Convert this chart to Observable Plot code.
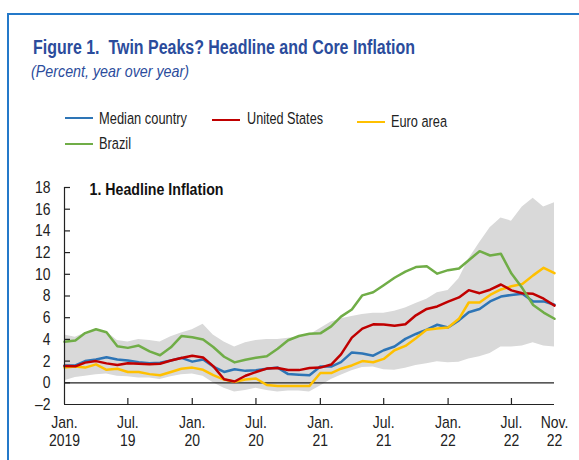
<!DOCTYPE html>
<html><head><meta charset="utf-8">
<script src="https://cdn.jsdelivr.net/npm/d3@7"></script>
<script src="https://cdn.jsdelivr.net/npm/@observablehq/plot@0.6"></script>
<style>
body{margin:0;width:579px;height:460px;overflow:hidden;background:#fff;position:relative;
  font-family:"Liberation Sans",Arial,sans-serif;color:#222}
#frame{position:absolute;left:7px;top:13px;width:600px;height:500px;border-left:2px solid #2479c9;border-top:2px solid #2479c9}
.fit{position:absolute;display:inline-block;white-space:pre;line-height:1;transform-origin:0 0}
#title{left:33px;top:37.5px;font-size:19.5px;font-weight:bold;color:#2b4c9c}
#subtitle{left:31px;top:63px;font-size:16.5px;font-style:italic;color:#2b4c9c}
.leg{font-size:16.3px;color:#222}
.legline{position:absolute;height:2.4px}
#chart{position:absolute;left:0;top:170px}
</style></head>
<body>
<div id="frame"></div>
<div id="title" class="fit">Figure 1.  Twin Peaks? Headline and Core Inflation</div>
<div id="subtitle" class="fit">(Percent, year over year)</div>
<div id="legend"></div>
<div id="chart"></div>
<script>
// ---- data (monthly, Jan 2019 – Nov 2022) ----
const startMonth = "2019-01";
const median = [1.6,1.6,2.0,2.15,2.35,2.15,2.05,1.9,1.8,1.85,2.05,2.3,1.95,2.15,1.5,1.0,1.25,1.1,1.15,1.3,1.4,0.8,0.75,0.7,1.5,1.5,1.9,2.8,2.7,2.5,3.0,3.35,4.05,4.5,4.9,5.35,5.1,5.75,6.5,6.8,7.5,7.95,8.1,8.2,7.5,7.5,7.2];
const unitedStates = [1.55,1.52,1.86,2.0,1.79,1.65,1.81,1.75,1.71,1.76,2.05,2.29,2.49,2.33,1.54,0.33,0.12,0.65,0.99,1.31,1.37,1.18,1.17,1.36,1.4,1.68,2.62,4.16,4.99,5.39,5.37,5.25,5.39,6.22,6.81,7.04,7.48,7.87,8.54,8.26,8.58,9.06,8.52,8.26,8.2,7.75,7.11];
const euroArea = [1.4,1.5,1.4,1.7,1.2,1.3,1.0,1.0,0.8,0.7,1.0,1.3,1.4,1.2,0.7,0.3,0.1,0.3,0.4,-0.2,-0.3,-0.3,-0.3,-0.3,0.9,0.9,1.3,1.6,2.0,1.9,2.2,3.0,3.4,4.1,4.9,5.0,5.1,5.9,7.4,7.4,8.1,8.6,8.9,9.1,9.9,10.6,10.1];
const brazil = [3.78,3.89,4.58,4.94,4.66,3.37,3.22,3.43,2.89,2.54,3.27,4.31,4.19,4.0,3.3,2.4,1.88,2.13,2.31,2.44,3.14,3.92,4.31,4.52,4.56,5.2,6.1,6.76,8.06,8.35,8.99,9.68,10.25,10.67,10.74,10.06,10.38,10.54,11.3,12.13,11.73,11.89,10.07,8.73,7.17,6.47,5.9];
const bandLow = [0.2,0.5,0.6,0.75,0.8,0.6,0.55,0.45,0.45,0.3,0.55,0.75,0.8,0.6,0.0,-0.5,-0.85,-0.7,-0.5,-0.7,-0.85,-0.75,-0.75,-0.85,-0.3,0.3,0.7,1.1,1.4,1.45,1.2,1.15,1.35,1.6,1.75,1.95,1.85,1.9,2.2,2.4,2.7,3.3,3.3,3.4,3.7,3.4,3.3];
const bandHigh = [4.4,4.2,4.6,4.9,4.7,3.9,3.75,4.0,3.9,3.75,4.25,4.6,4.9,5.4,4.4,3.75,3.3,3.7,3.9,4.0,4.0,4.1,4.2,4.4,5.0,5.6,5.9,6.1,6.3,6.4,6.4,6.6,6.9,7.3,7.7,8.3,8.5,9.6,11.4,12.9,14.3,15.2,14.9,16.2,17.0,16.2,16.6];
const seriesNames = ["Median country","United States","Euro area","Brazil"];
const seriesColors = ["#2e75b6","#c00000","#ffc000","#70ad47"];
const tickMonths = ["2019-01","2019-07","2020-01","2020-07","2021-01","2021-07","2022-01","2022-07","2022-11"];
const tickLabels = ["Jan.\n2019","Jul.\n19","Jan.\n20","Jul.\n20","Jan.\n21","Jul.\n21","Jan.\n22","Jul.\n22","Nov.\n22"];
const yTicks = [-2,0,2,4,6,8,10,12,14,16,18];
const panelTitle = "1. Headline Inflation";

// ---- helpers: condense text to a narrow face ----
function fitHTML(el, target){
  const w = el.getBoundingClientRect().width;
  el.style.transform = `scaleX(${target/w})`;
}
function condenseSVG(root, factor, special){
  root.querySelectorAll("text").forEach(t=>{
    const spans=[...t.querySelectorAll("tspan")];
    const els = spans.length ? spans : [t];
    const f = special && special[t.textContent] ? null : factor;
    els.forEach(e=>{
      const w=e.getComputedTextLength();
      const target = f ? w*f : special[t.textContent];
      e.setAttribute("textLength", target);
      e.setAttribute("lengthAdjust","spacingAndGlyphs");
    });
  });
}

// ---- build table ----
const parseM = d3.utcParse("%Y-%m");
const start = parseM(startMonth);
const rows = median.map((v,i)=>({date:d3.utcMonth.offset(start,i), median:v, us:unitedStates[i], euro:euroArea[i], brazil:brazil[i], lo:bandLow[i], hi:bandHigh[i]}));
const tickDates = tickMonths.map(parseM);
const labelMap = new Map(tickDates.map((d,i)=>[+d, tickLabels[i]]));

// ---- legend (HTML) ----
// [line x, line y, text x, text baseline, text width]
const legPos = [[65,118.3,99,124,88],[212,119.7,247,123.3,76],[357,122,391,126.7,56],[65,144.3,99,149,32]];
const leg = document.getElementById("legend");
seriesNames.forEach((n,i)=>{
  const [lx,ly,tx,tb,tw]=legPos[i];
  const l=document.createElement("div"); l.className="legline";
  l.style.cssText=`left:${lx}px;top:${ly-1.2}px;width:28px;background:${seriesColors[i]}`;
  const t=document.createElement("div"); t.className="fit leg"; t.textContent=n;
  t.style.left=tx+"px"; t.style.top=(tb-13.8)+"px";
  leg.append(l,t);
  fitHTML(t, tw);
});
fitHTML(document.getElementById("title"), 382);
fitHTML(document.getElementById("subtitle"), 158);

// ---- chart ----
const W=579,H=279,mt=17,mb=45,ml=64,mr=25;
const plotH=H-mt-mb, plotW=W-ml-mr;
const keys=["median","euro","us","brazil"];
const colorOf={median:seriesColors[0],us:seriesColors[1],euro:seriesColors[2],brazil:seriesColors[3]};
const chart = Plot.plot({
  width:W,height:H,marginTop:mt,marginBottom:mb,marginLeft:ml,marginRight:mr,
  style:{fontFamily:'"Liberation Sans",Arial,sans-serif',fontSize:"17px",color:"#222",background:"transparent",overflow:"visible"},
  x:{type:"utc",domain:[rows[0].date,rows[rows.length-1].date]},
  y:{domain:[-2,18]},
  marks:[
    Plot.areaY(rows,{x:"date",y1:"lo",y2:"hi",fill:"#d9d9d9",curve:"linear"}),
    Plot.ruleY([0],{stroke:"#222",strokeWidth:1.2}),
    ...keys.map(k=>Plot.lineY(rows,{x:"date",y:k,stroke:colorOf[k],strokeWidth:2.5,strokeLinejoin:"round"})),
    Plot.ruleY([-2],{stroke:"#222",strokeWidth:1.2}),
    Plot.ruleX([rows[0].date],{stroke:"#222",strokeWidth:1.2}),
    Plot.ruleX(tickDates.slice(1,-1),{stroke:"#222",strokeWidth:1.2,insetTop:plotH-6}),
    Plot.ruleY(yTicks.slice(1),{stroke:"#222",strokeWidth:1.2,insetRight:plotW-6}),
    Plot.axisY({ticks:yTicks,tickSize:0,tickPadding:14,tickFormat:d=>d<0?"\u2013"+(-d):String(d)}),
    Plot.axisX({ticks:tickDates,tickSize:0,tickPadding:11,tickFormat:d=>labelMap.get(+d),lineHeight:1.05}),
    Plot.text([panelTitle],{frameAnchor:"top-left",textAnchor:"start",lineAnchor:"top",dx:25,dy:-4,fontWeight:"bold",fontSize:16.5,fill:"#111"})
  ]
});
document.getElementById("chart").append(chart);
condenseSVG(chart, 0.82, {[panelTitle]:134});
</script>
</body></html>
